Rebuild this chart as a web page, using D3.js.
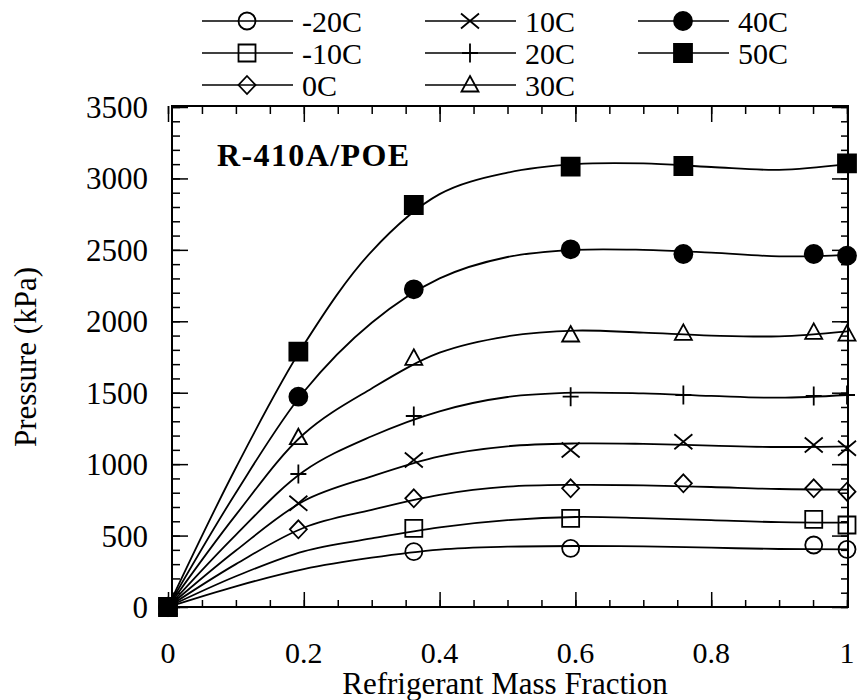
<!DOCTYPE html>
<html>
<head>
<meta charset="utf-8">
<script src="https://cdn.jsdelivr.net/npm/d3@7"></script>
<style>
  html, body { margin: 0; padding: 0; background: #fff; }
  svg { display: block; }
  text { font-family: "Liberation Serif", "Times New Roman", serif; fill: #000; }
</style>
</head>
<body>
<svg id="chart" width="859" height="700"></svg>
<script>
// ---- data ----
const seriesNames = ["-20C", "-10C", "0C", "10C", "20C", "30C", "40C", "50C"];
const markerTypes = ["circle", "square", "diamond", "cross", "plus", "triangle", "dot", "block"];

// measured points (null = not measured)
const xMeasured = [0, 0.192, 0.362, 0.593, 0.759, 0.951, 1.0];
const pM20 = [0, null, 387, 411, null, 434, 404];
const pM10 = [0, null, 551, 621, null, 614, 574];
const p0   = [0, 544, 761, 831, 866, 831, 807];
const p10  = [0, 726, 1029, 1099, 1157, 1134, 1111];
const p20  = [0, 931, 1337, 1472, 1484, 1477, 1484];
const p30  = [0, 1185, 1741, 1904, 1915, 1922, 1910];
const p40  = [0, 1472, 2224, 2504, 2471, 2471, 2459];
const p50  = [0, 1787, 2814, 3082, 3087, null, 3106];

// fitted curves
const xFit = [0, 0.1, 0.2, 0.3, 0.4, 0.5, 0.6, 0.7, 0.8, 0.9, 1.0];
const fM20 = [0, 145, 265, 345, 402, 422, 427, 424, 415, 406, 404];
const fM10 = [0, 215, 390, 480, 558, 608, 630, 622, 608, 594, 590];
const f0   = [0, 300, 555, 680, 785, 842, 855, 852, 840, 826, 822];
const f10  = [0, 395, 742, 915, 1055, 1125, 1145, 1142, 1130, 1120, 1125];
const f20  = [0, 505, 950, 1195, 1370, 1470, 1500, 1495, 1478, 1465, 1484];
const f30  = [0, 645, 1211, 1530, 1780, 1895, 1935, 1920, 1900, 1895, 1930];
const f40  = [0, 800, 1507, 1990, 2300, 2450, 2500, 2500, 2480, 2455, 2465];
const f50  = [0, 975, 1835, 2490, 2890, 3040, 3100, 3105, 3080, 3060, 3100];

const xTicks = [0, 0.2, 0.4, 0.6, 0.8, 1];
const xTickLabels = ["0", "0.2", "0.4", "0.6", "0.8", "1"];
const yTicks = [0, 500, 1000, 1500, 2000, 2500, 3000, 3500];
const xTitle = "Refrigerant Mass Fraction";
const yTitle = "Pressure (kPa)";
const plotLabel = "R-410A/POE";

const measured = [pM20, pM10, p0, p10, p20, p30, p40, p50];
const fits = [fM20, fM10, f0, f10, f20, f30, f40, f50];

// ---- layout ----
const svg = d3.select("#chart");
const FL = 172, FR = 848, FT = 106, FB = 607;     // frame
const x = d3.scaleLinear().domain([0, 1]).range([168, 847]);
const y = d3.scaleLinear().domain([0, 3500]).range([607, 107]);

const FONT = 31;

function styleAxis(g) {
  g.select(".domain").remove();
  g.selectAll("line").attr("stroke", "#000").attr("stroke-width", 1.5);
}
const minorX = d3.range(0, 1.0001, 0.05);
const minorY = d3.range(0, 3500.1, 100);

// inward ticks
svg.append("g").attr("transform", `translate(0,${FB})`)
  .call(d3.axisBottom(x).tickValues(minorX).tickSize(-7).tickFormat("")).call(styleAxis);
svg.append("g").attr("transform", `translate(0,${FB})`)
  .call(d3.axisBottom(x).tickValues(xTicks).tickSize(-15).tickFormat("")).call(styleAxis);
svg.append("g").attr("transform", `translate(0,${FT})`)
  .call(d3.axisTop(x).tickValues(minorX).tickSize(-8).tickFormat("")).call(styleAxis);
svg.append("g").attr("transform", `translate(0,${FT})`)
  .call(d3.axisTop(x).tickValues(xTicks).tickSize(-16).tickFormat("")).call(styleAxis);
svg.append("g").attr("transform", `translate(${FL},0)`)
  .call(d3.axisLeft(y).tickValues(minorY).tickSize(-8).tickFormat("")).call(styleAxis);
svg.append("g").attr("transform", `translate(${FL},0)`)
  .call(d3.axisLeft(y).tickValues(yTicks).tickSize(-16).tickFormat("")).call(styleAxis);
svg.append("g").attr("transform", `translate(${FR},0)`)
  .call(d3.axisRight(y).tickValues(minorY).tickSize(-7).tickFormat("")).call(styleAxis);
svg.append("g").attr("transform", `translate(${FR},0)`)
  .call(d3.axisRight(y).tickValues(yTicks).tickSize(-16).tickFormat("")).call(styleAxis);

// tick labels
svg.append("g").selectAll("text").data(xTicks).join("text")
  .attr("x", d => x(d)).attr("y", 663).attr("text-anchor", "middle")
  .attr("font-size", 30).text((d, i) => xTickLabels[i]);
svg.append("g").selectAll("text").data(yTicks).join("text")
  .attr("x", 148).attr("y", d => y(d) + 11).attr("text-anchor", "end")
  .attr("font-size", FONT).text(d => d3.format("d")(d));

// frame
svg.append("rect").attr("x", FL).attr("y", FT).attr("width", FR - FL).attr("height", FB - FT)
  .attr("fill", "none").attr("stroke", "#000").attr("stroke-width", 2);

// axis titles
svg.append("text").attr("x", 505).attr("y", 694).attr("text-anchor", "middle")
  .attr("font-size", FONT).text(xTitle);
svg.append("text").attr("transform", `translate(36,357) rotate(-90)`)
  .attr("text-anchor", "middle").attr("font-size", FONT).text(yTitle);

// label in plot
svg.append("text").attr("x", 217).attr("y", 166).attr("font-size", 32).attr("font-weight", "bold")
  .attr("letter-spacing", 1.4).text(plotLabel);

// fitted curves
const line = d3.line().x(d => x(d[0])).y(d => y(d[1])).curve(d3.curveCatmullRom.alpha(0.5));
fits.forEach(f => {
  svg.append("path").datum(xFit.map((xv, i) => [xv, f[i]]))
    .attr("d", line).attr("fill", "none").attr("stroke", "#000").attr("stroke-width", 1.8);
});

// markers
function drawMarker(g, type, cx, cy) {
  const s = g.append("path");
  let d, r;
  switch (type) {
    case "circle":
      r = 8.5; d = `M${cx - r},${cy}a${r},${r} 0 1,0 ${2 * r},0a${r},${r} 0 1,0 ${-2 * r},0Z`; break;
    case "dot":
      r = 9; d = `M${cx - r},${cy}a${r},${r} 0 1,0 ${2 * r},0a${r},${r} 0 1,0 ${-2 * r},0Z`; break;
    case "square":
      r = 8.5; d = `M${cx - r},${cy - r}h${2 * r}v${2 * r}h${-2 * r}Z`; break;
    case "block":
      r = 9; d = `M${cx - r},${cy - r}h${2 * r}v${2 * r}h${-2 * r}Z`; break;
    case "diamond":
      d = `M${cx},${cy - 9}L${cx + 8.5},${cy}L${cx},${cy + 9}L${cx - 8.5},${cy}Z`; break;
    case "cross":
      d = `M${cx - 9},${cy - 7.5}L${cx + 9},${cy + 7.5}M${cx - 9},${cy + 7.5}L${cx + 9},${cy - 7.5}`; break;
    case "plus":
      d = `M${cx - 8},${cy}L${cx + 8},${cy}M${cx},${cy - 9.5}L${cx},${cy + 9.5}`; break;
    case "triangle":
      d = `M${cx},${cy - 9}L${cx + 8.5},${cy + 6.5}L${cx - 8.5},${cy + 6.5}Z`; break;
  }
  const filled = (type === "dot" || type === "block");
  s.attr("d", d).attr("fill", filled ? "#000" : "none").attr("stroke", "#000").attr("stroke-width", 1.8);
}
const mg = svg.append("g");
measured.forEach((p, si) => {
  p.forEach((v, i) => {
    if (v === null) return;
    drawMarker(mg, markerTypes[si], x(xMeasured[i]), y(v));
  });
});

// legend
const legendCols = [202, 425, 638];
const legendRows = [21, 53, 85];
const lg = svg.append("g");
seriesNames.forEach((name, i) => {
  const col = Math.floor(i / 3), row = i % 3;
  const x0 = legendCols[col], yy = legendRows[row];
  lg.append("line").attr("x1", x0).attr("x2", x0 + 91).attr("y1", yy).attr("y2", yy)
    .attr("stroke", "#000").attr("stroke-width", 1.7);
  drawMarker(lg, markerTypes[i], x0 + 45, yy);
  lg.append("text").attr("x", x0 + 100).attr("y", yy + 11).attr("font-size", 30).text(name);
});
</script>
</body>
</html>
